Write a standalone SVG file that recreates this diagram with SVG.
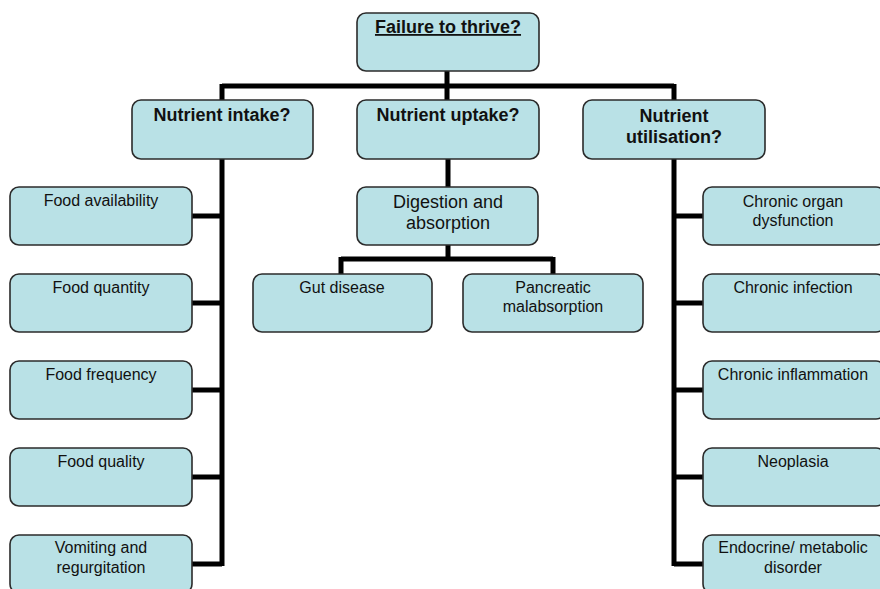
<svg xmlns="http://www.w3.org/2000/svg" width="880" height="589" viewBox="0 0 880 589">
<style>
.box{fill:#b9e1e6;stroke:#2b2b2b;stroke-width:1.6}
.h{font-family:"Liberation Sans",Arial,sans-serif;font-weight:bold;font-size:18px;fill:#111;text-anchor:middle}
.t{font-family:"Liberation Sans",Arial,sans-serif;font-size:16px;fill:#111;text-anchor:middle}
.t2{font-family:"Liberation Sans",Arial,sans-serif;font-size:18px;fill:#111;text-anchor:middle}
.c{fill:none;stroke:#000;stroke-width:5;stroke-linejoin:miter}
</style>
<rect width="880" height="589" fill="#fff"/>
<g id="connectors">
<path class="c" d="M447 71V100M222 86H674M222 84V566M674 84V566"/>
<path class="c" d="M192 216H222M192 303H222M192 390H222M192 477H222M192 564H222"/>
<path class="c" d="M674 216H703M674 303H703M674 390H703M674 477H703M674 564H703"/>
<path class="c" d="M448 159V187M448 245V259M341 259H553M341 257V274M553 257V274"/>
</g>
<g id="n-ftt"><rect class="box" x="357" y="13" width="182" height="58" rx="9"/><text class="h" x="448" y="33" text-decoration="underline">Failure to thrive?</text></g>
<g id="n-intake"><rect class="box" x="132" y="100" width="181" height="59" rx="9"/><text class="h" x="222" y="121">Nutrient intake?</text></g>
<g id="n-uptake"><rect class="box" x="357" y="100" width="182" height="59" rx="9"/><text class="h" x="448" y="121">Nutrient uptake?</text></g>
<g id="n-util"><rect class="box" x="583" y="100" width="182" height="59" rx="9"/><text class="h" x="674" y="122">Nutrient</text><text class="h" x="674" y="143">utilisation?</text></g>
<g id="n-avail"><rect class="box" x="10" y="187" width="182" height="58" rx="9"/><text class="t" x="101" y="206">Food availability</text></g>
<g id="n-quant"><rect class="box" x="10" y="274" width="182" height="58" rx="9"/><text class="t" x="101" y="293">Food quantity</text></g>
<g id="n-freq"><rect class="box" x="10" y="361" width="182" height="58" rx="9"/><text class="t" x="101" y="380">Food frequency</text></g>
<g id="n-qual"><rect class="box" x="10" y="448" width="182" height="58" rx="9"/><text class="t" x="101" y="467">Food quality</text></g>
<g id="n-vomit"><rect class="box" x="10" y="535" width="182" height="58" rx="9"/><text class="t" x="101" y="553">Vomiting and</text><text class="t" x="101" y="573">regurgitation</text></g>
<g id="n-digest"><rect class="box" x="357" y="187" width="181" height="58" rx="9"/><text class="t2" x="448" y="208">Digestion and</text><text class="t2" x="448" y="229">absorption</text></g>
<g id="n-gut"><rect class="box" x="253" y="274" width="179" height="58" rx="9"/><text class="t" x="342" y="293">Gut disease</text></g>
<g id="n-panc"><rect class="box" x="463" y="274" width="180" height="58" rx="9"/><text class="t" x="553" y="293">Pancreatic</text><text class="t" x="553" y="312">malabsorption</text></g>
<g id="n-organ"><rect class="box" x="703" y="187" width="182" height="58" rx="9"/><text class="t" x="793" y="207">Chronic organ</text><text class="t" x="793" y="226">dysfunction</text></g>
<g id="n-infect"><rect class="box" x="703" y="274" width="182" height="58" rx="9"/><text class="t" x="793" y="293">Chronic infection</text></g>
<g id="n-inflam"><rect class="box" x="703" y="361" width="182" height="58" rx="9"/><text class="t" x="793" y="380">Chronic inflammation</text></g>
<g id="n-neo"><rect class="box" x="703" y="448" width="182" height="58" rx="9"/><text class="t" x="793" y="467">Neoplasia</text></g>
<g id="n-endo"><rect class="box" x="703" y="535" width="182" height="58" rx="9"/><text class="t" x="793" y="553">Endocrine/ metabolic</text><text class="t" x="793" y="573">disorder</text></g>
</svg>
